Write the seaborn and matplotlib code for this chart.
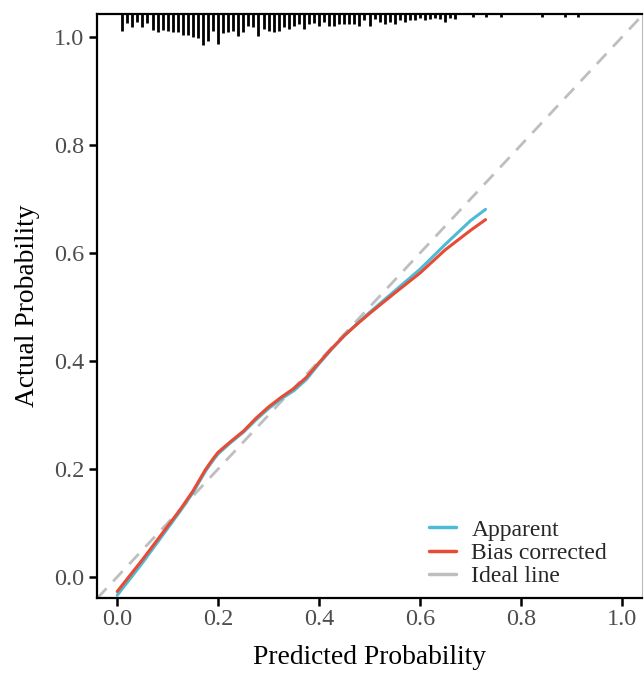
import matplotlib
matplotlib.use("Agg")
import matplotlib.pyplot as plt
import seaborn as sns
import pandas as pd
from matplotlib.lines import Line2D

# ---- data ----
pred_x = [0.0, 0.05, 0.10, 0.125, 0.15, 0.175, 0.19, 0.2, 0.225, 0.25, 0.275, 0.3,
          0.325, 0.35, 0.375, 0.4, 0.425, 0.45, 0.475, 0.5, 0.55, 0.6, 0.65, 0.7, 0.73]
apparent = [-0.034, 0.026, 0.090, 0.122, 0.156, 0.196, 0.216, 0.228, 0.249, 0.268, 0.291, 0.312,
            0.330, 0.345, 0.366, 0.395, 0.422, 0.447, 0.469, 0.490, 0.530, 0.570, 0.616, 0.660, 0.681]
bias_corrected = [-0.027, 0.032, 0.094, 0.125, 0.159, 0.199, 0.219, 0.231, 0.251, 0.270, 0.294, 0.315,
                  0.333, 0.349, 0.370, 0.397, 0.423, 0.447, 0.468, 0.488, 0.526, 0.563, 0.606, 0.642, 0.662]

# spike histogram of predicted probabilities along the top: positions and spike lengths (y data units)
rug_x = [0.01, 0.02, 0.03, 0.04, 0.05, 0.06, 0.07, 0.08, 0.09, 0.10, 0.11, 0.12, 0.13, 0.14, 0.15, 0.16,
         0.17, 0.18, 0.19, 0.20, 0.21, 0.22, 0.23, 0.24, 0.25, 0.26, 0.27, 0.28, 0.29, 0.30, 0.31, 0.32,
         0.33, 0.34, 0.35, 0.36, 0.37, 0.38, 0.39, 0.40, 0.41, 0.42, 0.43, 0.44, 0.45, 0.46, 0.47, 0.48,
         0.49, 0.50, 0.51, 0.52, 0.53, 0.54, 0.55, 0.56, 0.57, 0.58, 0.59, 0.60, 0.61, 0.62, 0.63, 0.64,
         0.65, 0.66, 0.67, 0.705, 0.731, 0.76, 0.842, 0.888, 0.914]
rug_len = [0.032, 0.016, 0.025, 0.014, 0.025, 0.016, 0.029, 0.034, 0.029, 0.032, 0.034, 0.034, 0.038, 0.038, 0.042, 0.044,
           0.057, 0.050, 0.031, 0.055, 0.036, 0.033, 0.031, 0.040, 0.033, 0.022, 0.024, 0.040, 0.027, 0.031, 0.033, 0.031,
           0.025, 0.027, 0.023, 0.018, 0.027, 0.018, 0.016, 0.022, 0.014, 0.023, 0.022, 0.018, 0.018, 0.018, 0.018, 0.023,
           0.012, 0.022, 0.009, 0.014, 0.018, 0.014, 0.018, 0.012, 0.014, 0.011, 0.012, 0.007, 0.012, 0.010, 0.007, 0.009,
           0.015, 0.007, 0.009, 0.006, 0.005, 0.005, 0.005, 0.005, 0.005]

xticks = [0.0, 0.2, 0.4, 0.6, 0.8, 1.0]
yticks = [0.0, 0.2, 0.4, 0.6, 0.8, 1.0]
xlim = (-0.04, 1.04)
ylim = (-0.039, 1.043)

series_names = ["Apparent", "Bias corrected"]
colors = {"Apparent": "#4DBBD5", "Bias corrected": "#E64B35"}
ideal_color = "#BEBEBE"

df = pd.DataFrame({
    "Predicted": pred_x + pred_x,
    "Actual": apparent + bias_corrected,
    "Series": [series_names[0]] * len(pred_x) + [series_names[1]] * len(pred_x),
})

# ---- figure ----
sns.set_theme(style="white")
plt.rcParams["font.family"] = ["Liberation Serif", "DejaVu Serif"]

fig = plt.figure(figsize=(6.44, 6.73), dpi=100)
ax = fig.add_axes([97 / 644, 1 - 598 / 673, (642 - 97) / 644, (598 - 14) / 673])

# ideal line
ax.plot([xlim[0], xlim[1]], [xlim[0], xlim[1]], color=ideal_color, lw=2.0,
        dashes=(5, 3.5), zorder=1)

sns.lineplot(data=df, x="Predicted", y="Actual", hue="Series", palette=colors,
             hue_order=series_names, lw=2.2, ax=ax, legend=False, zorder=3, sort=True)

# spikes at top
top = ylim[1]
ax.vlines(rug_x, [top - l for l in rug_len], top, color="black", lw=2.0, zorder=4)

ax.set_xlim(*xlim)
ax.set_ylim(*ylim)
ax.set_xticks(xticks)
ax.set_yticks(yticks)
ax.set_xticklabels([f"{t:.1f}" for t in xticks])
ax.set_yticklabels([f"{t:.1f}" for t in yticks])
ax.tick_params(axis="both", which="major", direction="out", length=6, width=1.8,
               color="black", labelsize=17.5, labelcolor="#4D4D4D",
               bottom=True, left=True)
ax.tick_params(axis="x", pad=2)
ax.tick_params(axis="y", pad=3)

for side in ["left", "bottom", "top"]:
    ax.spines[side].set_color("black")
    ax.spines[side].set_linewidth(1.6)
ax.spines["right"].set_color("#BBBBBB")
ax.spines["right"].set_linewidth(0.8)

ax.set_xlabel("Predicted Probability", fontsize=19.8, color="black", labelpad=11)
ax.set_ylabel("Actual Probability", fontsize=19.8, color="black", labelpad=10)

handles = [Line2D([], [], color=colors["Apparent"], lw=2.5),
           Line2D([], [], color=colors["Bias corrected"], lw=2.5),
           Line2D([], [], color=ideal_color, lw=2.5)]
ax.legend(handles, ["Apparent", "Bias corrected", "Ideal line"], loc="lower right",
          bbox_to_anchor=(0.962, -0.006), frameon=False, fontsize=17, handlelength=1.15,
          handletextpad=0.65, labelspacing=0.08, borderaxespad=0.2)

fig.savefig("out.png", dpi=100)
